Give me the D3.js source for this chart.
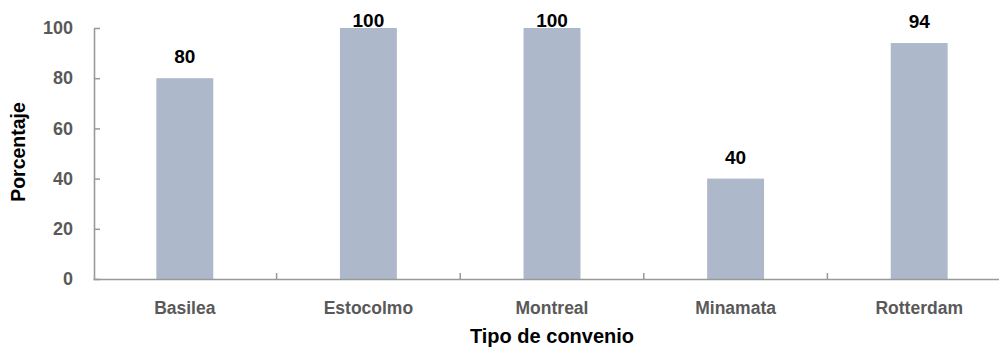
<!DOCTYPE html>
<html><head><meta charset="utf-8">
<script src="https://cdn.jsdelivr.net/npm/d3@7"></script>
<style>
html,body{margin:0;padding:0;background:#fff;}
svg{display:block;font-family:"Liberation Sans",Arial,sans-serif;}
</style></head>
<body>
<svg id="c" width="999" height="352"></svg>
<script>
const categories = ["Basilea","Estocolmo","Montreal","Minamata","Rotterdam"];
const values = [80,100,100,40,94];
const yTicks = [0,20,40,60,80,100];
const xTitle = "Tipo de convenio";
const yTitle = "Porcentaje";

const svg = d3.select("#c");
const mLeft = 93, mRight = 1011, mTop = 28, mBottom = 279;

const x = d3.scaleBand().domain(categories).range([mLeft, mRight]).paddingInner(0.69).paddingOuter(0.345);
const xb = d3.scaleBand().domain(categories).range([mLeft, mRight]).padding(0);
const y = d3.scaleLinear().domain([0,100]).range([mBottom, mTop]);

// bars
svg.append("g").selectAll("rect").data(categories).join("rect")
  .attr("x", d => x(d)).attr("width", x.bandwidth())
  .attr("y", (d,i) => y(values[i])).attr("height", (d,i) => y(0) - y(values[i]))
  .attr("fill", "#adb9cb");

// y axis
const ya = svg.append("g").attr("transform", `translate(${mLeft+1},0)`)
  .call(d3.axisLeft(y).tickValues(yTicks).tickSizeInner(-6).tickSizeOuter(0).tickPadding(21));
ya.select(".domain").attr("stroke", "#999").attr("stroke-width", 1.6);
ya.selectAll(".tick line").attr("stroke", "#999").attr("stroke-width", 1.5);
ya.selectAll(".tick text").attr("fill", "#595959").attr("font-size", 18).attr("font-weight", "bold")
  .attr("font-family", "Liberation Sans, Arial, sans-serif");

// x axis
const xa = svg.append("g").attr("transform", `translate(0,${mBottom})`)
  .call(d3.axisBottom(x).tickSize(0).tickPadding(23));
xa.select(".domain").attr("stroke", "#999").attr("stroke-width", 1.6);
xa.selectAll(".tick text").attr("fill", "#595959").attr("font-size", 17.5).attr("font-weight", "bold")
  .attr("font-family", "Liberation Sans, Arial, sans-serif");
// boundary ticks
svg.append("g").selectAll("line").data(categories.slice(1)).join("line")
  .attr("x1", d => xb(d)).attr("x2", d => xb(d))
  .attr("y1", mBottom).attr("y2", mBottom - 6)
  .attr("stroke", "#999").attr("stroke-width", 1.5);

// data labels
svg.append("g").selectAll("text").data(categories).join("text")
  .attr("x", d => x(d) + x.bandwidth()/2)
  .attr("y", (d,i) => Math.max(y(values[i]) - 15, 27))
  .attr("text-anchor", "middle").attr("font-size", 19).attr("font-weight", "bold").attr("fill", "#000")
  .text((d,i) => values[i]);

// titles
svg.append("text").attr("x", 552).attr("y", 343).attr("text-anchor", "middle")
  .attr("font-size", 20).attr("font-weight", "bold").attr("fill", "#000").text(xTitle);
svg.append("text").attr("transform", "translate(25,152) rotate(-90)").attr("text-anchor", "middle")
  .attr("font-size", 19.5).attr("font-weight", "bold").attr("fill", "#000").text(yTitle);
</script>
</body></html>
